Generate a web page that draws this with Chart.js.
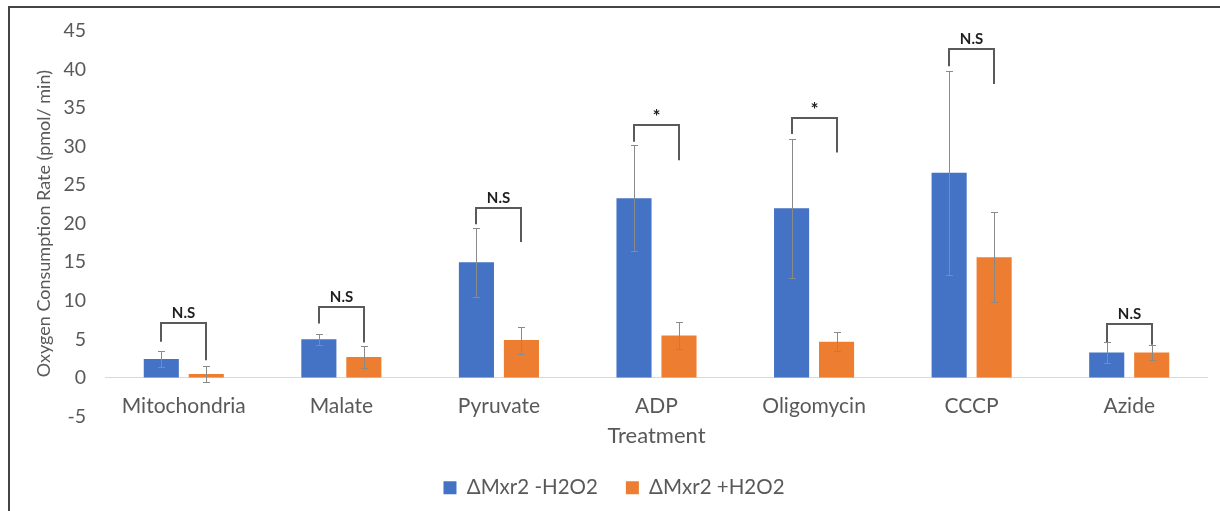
<!DOCTYPE html>
<html><head><meta charset="utf-8">
<script src="https://cdn.jsdelivr.net/npm/chart.js@4.4.1/dist/chart.umd.min.js"></script>
<style>
html,body{margin:0;padding:0;background:#fff;}
#wrap{position:relative;width:1220px;height:511px;overflow:hidden;}
#frame{position:absolute;left:8px;top:6px;right:-4px;bottom:-4px;border-top:2px solid #444;border-left:2px solid #444;pointer-events:none;}
canvas{position:absolute;left:0;top:0;}
</style></head><body>
<div id="wrap"><canvas id="c" width="1220" height="511"></canvas><div id="frame"></div></div>
<script>
const categories = ['Mitochondria', 'Malate', 'Pyruvate', 'ADP', 'Oligomycin', 'CCCP', 'Azide'];
const seriesNames = ['ΔMxr2 -H2O2', 'ΔMxr2 +H2O2'];
const minusH2O2 = [2.45, 5.0, 15.0, 23.3, 22.0, 26.6, 3.3];
const minusH2O2Err = [1.05, 0.75, 4.45, 6.85, 9.0, 13.2, 1.4];
const plusH2O2 = [0.5, 2.7, 4.9, 5.5, 4.7, 15.65, 3.3];
const plusH2O2Err = [1.0, 1.45, 1.75, 1.75, 1.2, 5.85, 1.0];
const bracketTop = [7.1, 9.2, 22.0, 32.8, 33.7, 42.6, 7.0];
const bracketLeftEnd = [4.7, 7.05, 19.9, 30.6, 31.6, 40.4, 4.65];
const bracketRightEnd = [2.3, 4.6, 17.6, 28.2, 29.2, 38.1, 4.3];
const significance = ['N.S', 'N.S', 'N.S', '*', '*', 'N.S', 'N.S'];
const yMin = -5, yMax = 45, yStep = 5;
const yTitle = 'Oxygen Consumption Rate (pmol/ min)';
const xTitle = 'Treatment';

const FONT = 'Lato';
const TXT = '#595959';

const annot = {
  id: 'annot',
  afterDatasetsDraw(chart) {
    const ctx = chart.ctx, y = chart.scales.y;
    const m0 = chart.getDatasetMeta(0), m1 = chart.getDatasetMeta(1);
    ctx.save();
    ctx.strokeStyle = '#8a8a8a';
    ctx.lineWidth = 1;
    [[m0, minusH2O2, minusH2O2Err], [m1, plusH2O2, plusH2O2Err]].forEach(([m, v, e]) => {
      m.data.forEach((bar, i) => {
        const x = Math.round(bar.x) + 0.5;
        const yt = Math.round(y.getPixelForValue(v[i] + e[i])) + 0.5;
        const yb = Math.round(y.getPixelForValue(v[i] - e[i])) + 0.5;
        ctx.beginPath();
        ctx.moveTo(x, yt); ctx.lineTo(x, yb);
        ctx.moveTo(x - 3.5, yt); ctx.lineTo(x + 3.5, yt);
        ctx.moveTo(x - 3.5, yb); ctx.lineTo(x + 3.5, yb);
        ctx.stroke();
      });
    });
    ctx.strokeStyle = '#5a5a5a';
    ctx.lineWidth = 2;
    categories.forEach((c, i) => {
      const xl = Math.round(m0.data[i].x), xr = Math.round(m1.data[i].x);
      const yt = Math.round(y.getPixelForValue(bracketTop[i]));
      ctx.beginPath();
      ctx.moveTo(xl, y.getPixelForValue(bracketLeftEnd[i]));
      ctx.lineTo(xl, yt);
      ctx.lineTo(xr, yt);
      ctx.lineTo(xr, y.getPixelForValue(bracketRightEnd[i]));
      ctx.stroke();
      ctx.fillStyle = '#1e1e1e';
      const star = significance[i] === '*';
      ctx.font = 'bold ' + (star ? 19 : 15) + 'px ' + FONT;
      ctx.textAlign = 'center';
      ctx.textBaseline = 'middle';
      ctx.fillText(significance[i], (xl + xr) / 2, yt - (star ? 8 : 10));
    });
    ctx.restore();
  }
};

new Chart(document.getElementById('c'), {
  type: 'bar',
  data: {
    labels: categories,
    datasets: [
      { label: seriesNames[0], data: minusH2O2, backgroundColor: '#4472C4', categoryPercentage: 0.571, barPercentage: 0.78 },
      { label: seriesNames[1], data: plusH2O2, backgroundColor: '#ED7D31', categoryPercentage: 0.571, barPercentage: 0.78 }
    ]
  },
  options: {
    responsive: false,
    animation: false,
    layout: { padding: { left: 20, top: 27, right: 12, bottom: 3 } },
    plugins: {
      legend: {
        position: 'bottom',
        labels: { boxWidth: 13, boxHeight: 13, padding: 28, color: TXT, font: { family: FONT, size: 20.5 } }
      },
      tooltip: { enabled: false }
    },
    scales: {
      x: {
        grid: { display: false, drawTicks: false },
        border: { display: false },
        ticks: { mirror: true, padding: -2.5, color: TXT, font: { family: FONT, size: 21 } },
        title: { display: true, text: xTitle, color: TXT, font: { family: FONT, size: 22 }, padding: { top: 0, bottom: 0 } },
        afterFit(s) { s.height = 33; }
      },
      y: {
        min: yMin, max: yMax,
        grid: { drawTicks: false, color: (c) => (c.tick && c.tick.value === 0 ? '#d9d9d9' : 'rgba(0,0,0,0)'), lineWidth: 1 },
        border: { display: false },
        ticks: { stepSize: yStep, padding: 19, color: TXT, font: { family: FONT, size: 19.5 } },
        title: { display: true, text: yTitle, color: TXT, font: { family: FONT, size: 18 }, padding: { top: 13, bottom: 0 } },
        afterFit(s) { s.width = 85; }
      }
    }
  },
  plugins: [annot]
});
</script>
</body></html>
